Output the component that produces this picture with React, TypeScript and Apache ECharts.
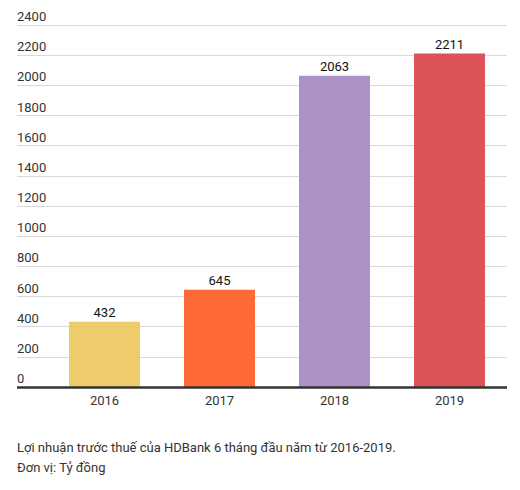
import React, { useEffect, useRef } from 'react';
import * as echarts from 'echarts';

const years = ['2016', '2017', '2018', '2019'];
const profits = [432, 645, 2063, 2211];
const barColors = ['#eecb6b', '#fe6a37', '#ac91c7', '#dc5457'];
const captionLines = [
  'Lợi nhuận trước thuế của HDBank 6 tháng đầu năm từ 2016-2019.',
  'Đơn vị: Tỷ đồng',
];

const App: React.FC = () => {
  const chartRef = useRef<HTMLDivElement>(null);

  useEffect(() => {
    document.body.style.margin = '0';
    if (!chartRef.current) return;
    const chart = echarts.init(chartRef.current, undefined, { renderer: 'svg' });
    const font = 'Roboto, "Noto Sans", sans-serif';

    const option: any = {
      animation: false,
      textStyle: { fontFamily: font },
      grid: [
        // background lines + y labels
        { left: 17, right: 13, top: 25, height: 362 },
        // bars
        { left: 47, right: 13, top: 25, height: 362 },
      ],
      xAxis: [
        {
          type: 'category',
          gridIndex: 0,
          data: years,
          axisLine: { show: false },
          axisTick: { show: false },
          axisLabel: { show: false },
        },
        {
          type: 'category',
          gridIndex: 1,
          data: years,
          axisLine: { show: false },
          axisTick: { show: false },
          axisLabel: { color: '#333', fontSize: 13, margin: 7, fontFamily: font },
        },
      ],
      yAxis: [
        {
          type: 'value',
          gridIndex: 0,
          min: 0,
          max: 2400,
          interval: 200,
          axisLine: { show: false },
          axisTick: { show: false },
          axisLabel: {
            inside: true,
            margin: 0,
            align: 'left',
            verticalAlign: 'bottom',
            padding: [0, 0, 2, 0],
            color: '#333',
            fontSize: 13,
            fontFamily: font,
            formatter: (v: number) => String(v),
          },
          splitLine: { lineStyle: { color: '#d9d9d9', width: 1 } },
        },
        {
          type: 'value',
          gridIndex: 1,
          min: 0,
          max: 2400,
          interval: 200,
          axisLine: { show: false },
          axisTick: { show: false },
          axisLabel: { show: false },
          splitLine: { show: false },
        },
      ],
      series: [
        {
          type: 'bar',
          xAxisIndex: 1,
          yAxisIndex: 1,
          barWidth: 71,
          data: profits.map((v, i) => ({ value: v, itemStyle: { color: barColors[i] } })),
          label: {
            show: true,
            position: 'top',
            distance: 3,
            color: '#111',
            fontSize: 13,
            fontFamily: font,
          },
          z: 2,
        },
        {
          // bottom axis line drawn across the full width
          type: 'line',
          xAxisIndex: 0,
          yAxisIndex: 0,
          data: [],
          markLine: {
            symbol: 'none',
            silent: true,
            label: { show: false },
            lineStyle: { color: '#333', width: 2.5, type: 'solid' },
            data: [{ yAxis: 0 }],
          },
          z: 5,
        },
      ],
      graphic: captionLines.map((t, i) => ({
        type: 'text',
        left: 17,
        top: 441 + i * 20,
        style: { text: t, fill: '#333', font: `13px ${font}` },
      })),
    };

    chart.setOption(option);
    return () => chart.dispose();
  }, []);

  return <div ref={chartRef} style={{ width: 520, height: 490 }} />;
};

export default App;
